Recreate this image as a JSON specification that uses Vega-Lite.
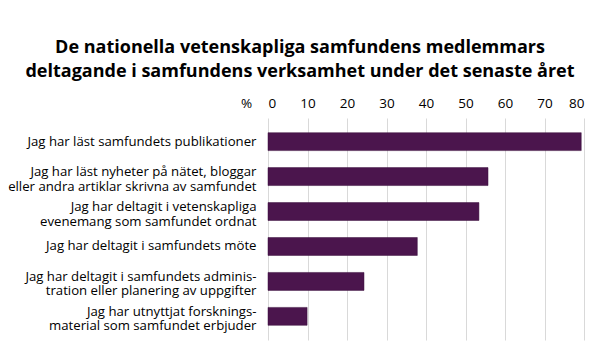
{
  "$schema": "https://vega.github.io/schema/vega-lite/v6.json",
  "width": 316,
  "height": 222,
  "autosize": {"type": "none"},
  "padding": {"left": 268, "top": 118, "right": 16, "bottom": 22},
  "background": "white",
  "title": {
    "text": ["De nationella vetenskapliga samfundens medlemmars", "deltagande i samfundens verksamhet under det senaste året"],
    "font": "Open Sans",
    "fontSize": 18,
    "fontWeight": "bold",
    "color": "#000000",
    "anchor": "middle",
    "dx": -126,
    "offset": 15,
    "lineHeight": 24
  },
  "data": {
    "values": [
      {"label": "Jag har läst samfundets publikationer", "value": 79.3},
      {"label": "Jag har läst nyheter på nätet, bloggar|eller andra artiklar skrivna av samfundet", "value": 55.7},
      {"label": "Jag har deltagit i vetenskapliga|evenemang som samfundet ordnat", "value": 53.4},
      {"label": "Jag har deltagit i samfundets möte", "value": 37.8},
      {"label": "Jag har deltagit i samfundets adminis-|tration eller planering av uppgifter", "value": 24.3},
      {"label": "Jag har utnyttjat forsknings-|material som samfundet erbjuder", "value": 9.9}
    ]
  },
  "mark": {"type": "bar", "color": "#4b154d", "stroke": "#3a0f3c", "strokeWidth": 0.5},
  "encoding": {
    "y": {
      "field": "label",
      "type": "nominal",
      "sort": null,
      "scale": {"paddingInner": 0.487, "paddingOuter": 0.42},
      "axis": {
        "title": null,
        "labelExpr": "split(datum.label, '|')",
        "labelFont": "Open Sans",
        "labelFontSize": 13.2,
        "labelColor": "#000000",
        "labelLineHeight": 14.5,
        "labelOffset": {"condition": {"test": "indexof(datum.label, '|') >= 0", "value": -4.5}, "value": 0},
        "labelPadding": 12,
        "labelLimit": 300,
        "ticks": false,
        "domain": false,
        "grid": false
      }
    },
    "x": {
      "field": "value",
      "type": "quantitative",
      "scale": {"domain": [0, 80], "nice": false},
      "axis": {
        "orient": "top",
        "values": [0, 10, 20, 30, 40, 50, 60, 70, 80],
        "title": "%",
        "titleAngle": 0,
        "titleX": -22,
        "titleY": -15,
        "titleFont": "Open Sans",
        "titleFontSize": 13.5,
        "titleFontWeight": "normal",
        "titleColor": "#000000",
        "titleAlign": "center",
        "titleBaseline": "middle",
        "labelFont": "Open Sans",
        "labelFontSize": 13.5,
        "labelColor": "#000000",
        "labelPadding": 8,
        "ticks": false,
        "domain": false,
        "grid": true,
        "gridColor": "#d9d9d9",
        "gridWidth": 1
      }
    }
  },
  "config": {"view": {"stroke": null}}
}
